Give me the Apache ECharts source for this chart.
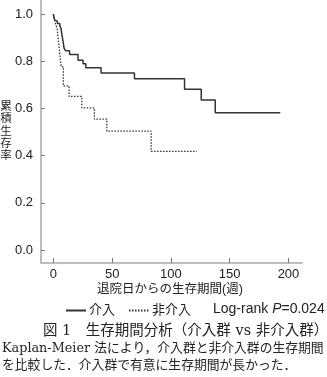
<!DOCTYPE html>
<html>
<head>
<meta charset="utf-8">
<script src="https://cdn.jsdelivr.net/npm/echarts@6/dist/echarts.min.js"></script>
<style>
  html, body { margin: 0; padding: 0; background: #fff; }
  #chart { width: 327px; height: 377px; }
</style>
</head>
<body>
<div id="chart"></div>
<script>
// Kaplan-Meier survival estimates (time in weeks after discharge)
const interventionWeeks = [0, 1.0, 1.7, 3.4, 5.5, 6.5, 7.4, 8.3, 9.1, 10.4, 13.8, 21.0, 25.3, 27.6, 40.6, 69.0, 111.6, 125.8, 137.7, 193.0];
const interventionSurvival = [1.0, 0.976, 0.97, 0.96, 0.95, 0.94, 0.91, 0.884, 0.856, 0.845, 0.829, 0.805, 0.79, 0.773, 0.751, 0.726, 0.682, 0.636, 0.582, 0.582];

const controlWeeks = [0, 1.7, 3.2, 4.0, 4.9, 5.7, 6.6, 8.5, 13.4, 24.2, 34.9, 45.5, 83.2, 122.0];
const controlSurvival = [1.0, 0.96, 0.94, 0.90, 0.86, 0.82, 0.777, 0.696, 0.651, 0.603, 0.555, 0.504, 0.418, 0.418];

const seriesNames = ['介入', '非介入'];
const xTicks = [0, 50, 100, 150, 200];
const yTicks = [0, 0.2, 0.4, 0.6, 0.8, 1.0];

const xAxisTitle = '退院日からの生存期間(週)';
const yAxisTitle = '累積生存率';
const pValueText = '0.024';
const captionLines = [
  '図 1　生存期間分析（介入群 vs 非介入群）',
  'Kaplan-Meier 法により，介入群と非介入群の生存期間',
  'を比較した．介入群で有意に生存期間が長かった．'
];

const sans = '"Liberation Sans", Arial, "Noto Sans CJK JP", sans-serif';
const serif = '"DejaVu Serif", "Noto Sans CJK JP", serif';

const pairs = (xs, ys) => xs.map((x, i) => [x, ys[i]]);

// vertical axis title: one character per row
const yTitleChars = yAxisTitle.split('').map((ch, i) => ({
  type: 'text', x: 6, y: 107 + i * 12.3,
  style: { text: ch, fill: '#222', fontSize: 11.5, fontFamily: sans, align: 'center', verticalAlign: 'middle' }
}));

const chart = echarts.init(document.getElementById('chart'), null, { renderer: 'canvas' });

chart.setOption({
  animation: false,
  backgroundColor: '#ffffff',
  grid: { left: 41, top: 0, width: 261, height: 263, containLabel: false },
  xAxis: {
    type: 'value',
    min: -10.5,
    max: 211.5,
    splitLine: { show: false },
    axisLine: { show: true, onZero: false, lineStyle: { color: '#bdbdbd', width: 2 } },
    axisTick: { show: true, inside: true, length: 5, customValues: xTicks, lineStyle: { color: '#777', width: 1 } },
    axisLabel: { customValues: xTicks, margin: 5, color: '#222', fontSize: 13, fontFamily: sans }
  },
  yAxis: {
    type: 'value',
    min: -0.055,
    max: 1.06,
    splitLine: { show: false },
    axisLine: { show: true, onZero: false, lineStyle: { color: '#bdbdbd', width: 2 } },
    axisTick: { show: true, inside: true, length: 4, customValues: yTicks, lineStyle: { color: '#777', width: 1 } },
    axisLabel: { customValues: yTicks, margin: 8, color: '#222', fontSize: 13, fontFamily: sans,
      formatter: v => v.toFixed(1) }
  },
  legend: {
    data: seriesNames,
    left: 65,
    top: 304,
    padding: 0,
    itemWidth: 20,
    itemHeight: 10,
    itemGap: 13,
    itemStyle: { opacity: 0 },
    textStyle: { color: '#222', fontSize: 13, fontFamily: sans, padding: [0, 0, 0, -2] }
  },
  series: [
    {
      name: seriesNames[0],
      type: 'line',
      step: 'end',
      symbol: 'none',
      data: pairs(interventionWeeks, interventionSurvival),
      lineStyle: { color: '#333', width: 1.5, type: 'solid' },
      itemStyle: { color: '#333' }
    },
    {
      name: seriesNames[1],
      type: 'line',
      step: 'end',
      symbol: 'none',
      data: pairs(controlWeeks, controlSurvival),
      lineStyle: { color: '#333', width: 1.3, type: [1.5, 1.5] },
      itemStyle: { color: '#333' }
    }
  ],
  graphic: yTitleChars.concat([
    {
      type: 'text', x: 170, y: 290,
      style: { text: xAxisTitle, fill: '#222', fontSize: 12.5, fontFamily: sans,
        align: 'center', verticalAlign: 'middle' }
    },
    {
      type: 'text', x: 213, y: 309,
      style: {
        text: 'Log-rank {i|P}=' + pValueText,
        fill: '#222', fontSize: 14, fontFamily: sans, verticalAlign: 'middle',
        rich: { i: { fontStyle: 'italic', fontSize: 14, fontFamily: sans, fill: '#222' } }
      }
    },
    {
      type: 'text', x: 43, y: 331,
      style: { text: captionLines[0], fill: '#222', fontSize: 14.5, fontFamily: serif, verticalAlign: 'middle' }
    },
    {
      type: 'text', x: 2, y: 349,
      style: { text: captionLines[1], fill: '#222', fontSize: 12.8, fontFamily: serif, verticalAlign: 'middle' }
    },
    {
      type: 'text', x: 2, y: 366,
      style: { text: captionLines[2], fill: '#222', fontSize: 12.8, fontFamily: serif, verticalAlign: 'middle' }
    }
  ])
});
</script>
</body>
</html>
